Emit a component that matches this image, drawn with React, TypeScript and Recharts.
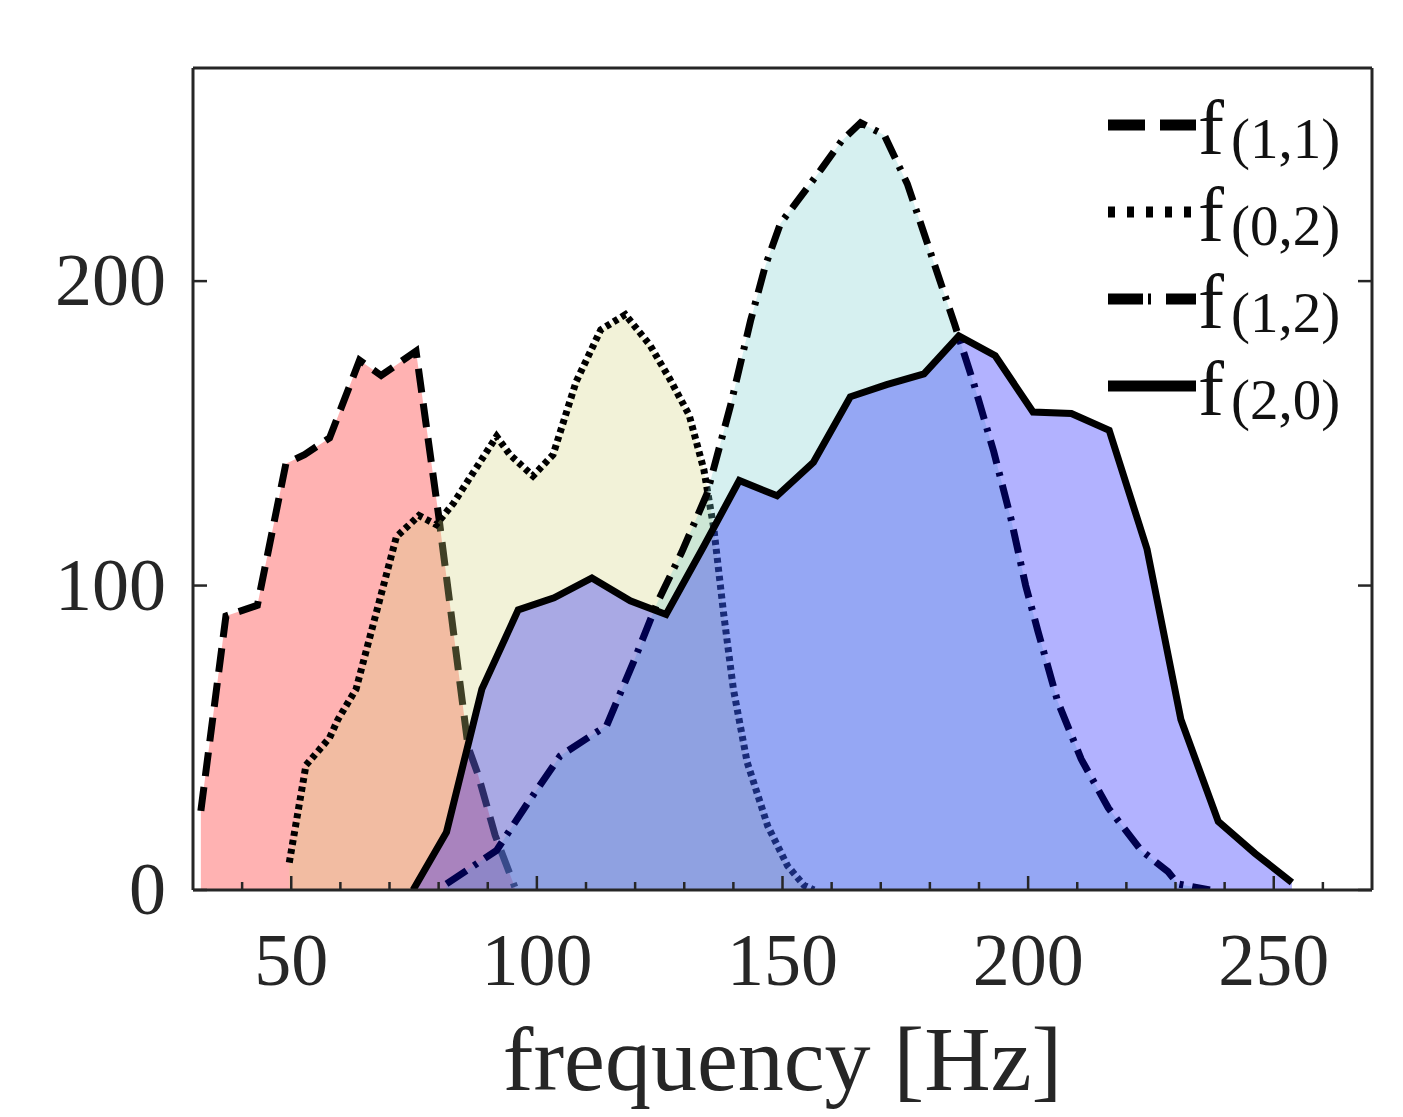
import React from "react";
import { Area, AreaChart, Legend, XAxis, YAxis } from "recharts";

// frequency [Hz] and count
const f11Freq = [31.6, 36.7, 43.1, 48.9, 52.7, 57.8, 63.9, 68.3, 75.4, 80, 86, 88, 91.5, 95.5];
const f11Val = [26, 90, 93.5, 140, 143, 148.5, 174, 169, 177, 123, 47, 38, 18, 1];

const f02Freq = [49.6, 53, 57.8, 59.5, 63.2, 67.3, 71.4, 76, 79.5, 83, 87, 91.8, 94.5, 99.2, 103.3, 108, 113, 118, 123, 127, 131, 134, 136, 138, 140, 142.8, 147, 151, 154.4, 156.4];
const f02Val = [9, 41, 50, 56, 66, 91, 116, 123, 120, 127, 137, 149, 143, 136, 143, 167, 184, 189, 179, 168, 156, 138, 119, 91, 66, 42, 21, 8, 1.5, 0];

const f12Freq = [81.6, 91.8, 97.9, 104.7, 114.2, 119.7, 124.4, 129.5, 134.6, 139.4, 143.5, 146.5, 149.6, 152.9, 158, 162, 165.9, 170.7, 175.4, 180.2, 185, 189, 193, 196.5, 199.5, 202, 206, 210.8, 216.3, 223, 228.5, 230.5, 237];
const f12Val = [2, 13, 28, 44, 54, 75, 94, 111, 130, 159, 187, 205, 219, 226, 237, 246, 252, 248, 232, 209, 186, 166, 144, 122, 100, 85, 62, 43, 27, 13, 6, 2, 0];

const f20Freq = [74.8, 81.6, 88.8, 96.2, 103.5, 111.2, 119, 126.3, 134, 141.2, 148.9, 156.3, 163.8, 171.2, 178.8, 185.9, 193.3, 201, 208.8, 216.5, 224.2, 231.1, 238.7, 246.2, 253.7];
const f20Val = [0, 19, 66, 92, 96, 102.5, 95, 90.5, 113, 134.5, 129.5, 140.5, 162, 166, 169.5, 182, 175.5, 157, 156.5, 151, 112, 56, 22.5, 12, 2.5];

const modeLabels = ["(1,1)", "(0,2)", "(1,2)", "(2,0)"];

const xMajorTicks = [50, 100, 150, 200, 250];
const xMinorTicks = [40, 60, 70, 80, 90, 110, 120, 130, 140, 160, 170, 180, 190, 210, 220, 230, 240, 260];
const yMajorTicks = [0, 100, 200];

const zip = (fs: number[], vs: number[]) => fs.map((f, i) => ({ f, v: vs[i] }));

const AXIS = "#262626";
const FONT = "'Liberation Serif', serif";

const series = [
  { data: zip(f11Freq, f11Val), fill: "#ff0000", dash: "24 11", legendDash: "37 15" },
  { data: zip(f02Freq, f02Val), fill: "#d4d47d", dash: "5 4", legendDash: "7 12" },
  { data: zip(f12Freq, f12Val), fill: "#76cdcd", dash: "24 9 4 9", legendDash: "35 5 3 15 30" },
  { data: zip(f20Freq, f20Val), fill: "#0000ff", dash: undefined, legendDash: undefined }
];

function BottomTick(props: any) {
  const { x, y, payload } = props;
  const major = xMajorTicks.includes(payload.value);
  return (
    <g>
      <line x1={x} x2={x} y1={y} y2={y - (major ? 14 : 8)} stroke={AXIS} strokeWidth={2.5} />
      {major && (
        <text x={x} y={y + 95} textAnchor="middle" fontSize={74} fontFamily={FONT} fill={AXIS}>
          {payload.value}
        </text>
      )}
    </g>
  );
}

function TopTick(props: any) {
  const { x, y, payload } = props;
  const major = xMajorTicks.includes(payload.value);
  return <line x1={x} x2={x} y1={y} y2={y + (major ? 14 : 8)} stroke={AXIS} strokeWidth={2.5} />;
}

function LeftTick(props: any) {
  const { x, y, payload } = props;
  return (
    <g>
      <line x1={x} x2={x + 14} y1={y} y2={y} stroke={AXIS} strokeWidth={2.5} />
      <text x={x - 27} y={y + 24} textAnchor="end" fontSize={74} fontFamily={FONT} fill={AXIS}>
        {payload.value}
      </text>
    </g>
  );
}

function RightTick(props: any) {
  const { x, y } = props;
  return <line x1={x} x2={x - 14} y1={y} y2={y} stroke={AXIS} strokeWidth={2.5} />;
}

// drawn in plotting order, not the legend's sorted payload order
function renderLegend() {
  return (
    <svg width={270} height={360} style={{ display: "block", overflow: "visible" }}>
      {modeLabels.map((label, i) => {
        const cy = 45 + i * 87;
        return (
          <g key={label}>
            <line x1={8} x2={96} y1={cy} y2={cy} stroke="#000" strokeWidth={11} strokeDasharray={series[i].legendDash} />
            <text x={98} y={cy + 29} fontSize={78} fontFamily={FONT} fill="#111">
              f
            </text>
            <text x={131} y={cy + 33} fontSize={57} fontFamily={FONT} fill="#111">
              {label}
            </text>
          </g>
        );
      })}
    </svg>
  );
}

export default function App() {
  return (
    <div style={{ position: "absolute", left: 0, top: 0, width: 1403, height: 1117, background: "#fff" }}>
      <AreaChart width={1403} height={1117} margin={{ top: 0, right: 0, bottom: 0, left: 0 }}>
        <XAxis
          dataKey="f"
          type="number"
          domain={[30, 270]}
          ticks={[...xMajorTicks, ...xMinorTicks]}
          interval={0}
          height={227}
          tickSize={0}
          tickMargin={0}
          tick={BottomTick}
          axisLine={{ stroke: AXIS, strokeWidth: 3 }}
          allowDataOverflow
          label={{ value: "frequency [Hz]", position: "insideBottom", offset: 27, fontSize: 92, fontFamily: FONT, fill: AXIS }}
        />
        <XAxis
          xAxisId="top"
          orientation="top"
          type="number"
          domain={[30, 270]}
          ticks={[...xMajorTicks, ...xMinorTicks]}
          interval={0}
          height={68}
          tickSize={0}
          tickMargin={0}
          tick={TopTick}
          axisLine={{ stroke: AXIS, strokeWidth: 3 }}
          allowDataOverflow
        />
        <YAxis
          type="number"
          domain={[0, 270]}
          ticks={yMajorTicks}
          interval={0}
          width={193}
          tickSize={0}
          tickMargin={0}
          tick={LeftTick}
          axisLine={{ stroke: AXIS, strokeWidth: 3 }}
          allowDataOverflow
        />
        <YAxis
          yAxisId="right"
          orientation="right"
          type="number"
          domain={[0, 270]}
          ticks={yMajorTicks}
          interval={0}
          width={31}
          tickSize={0}
          tickMargin={0}
          tick={RightTick}
          axisLine={{ stroke: AXIS, strokeWidth: 3 }}
          allowDataOverflow
        />
        {series.map((s, i) => (
          <Area
            key={modeLabels[i]}
            name={modeLabels[i]}
            data={s.data}
            dataKey="v"
            type="linear"
            baseValue={0}
            fill={s.fill}
            fillOpacity={0.3}
            stroke="#000"
            strokeWidth={7}
            strokeDasharray={s.dash}
            dot={false}
            activeDot={false}
            isAnimationActive={false}
          />
        ))}
        <Legend
          layout="vertical"
          align="center"
          verticalAlign="middle"
          content={renderLegend}
          wrapperStyle={{ position: "absolute", left: 1100, top: 80, width: 270, height: 360 }}
        />
      </AreaChart>
    </div>
  );
}
